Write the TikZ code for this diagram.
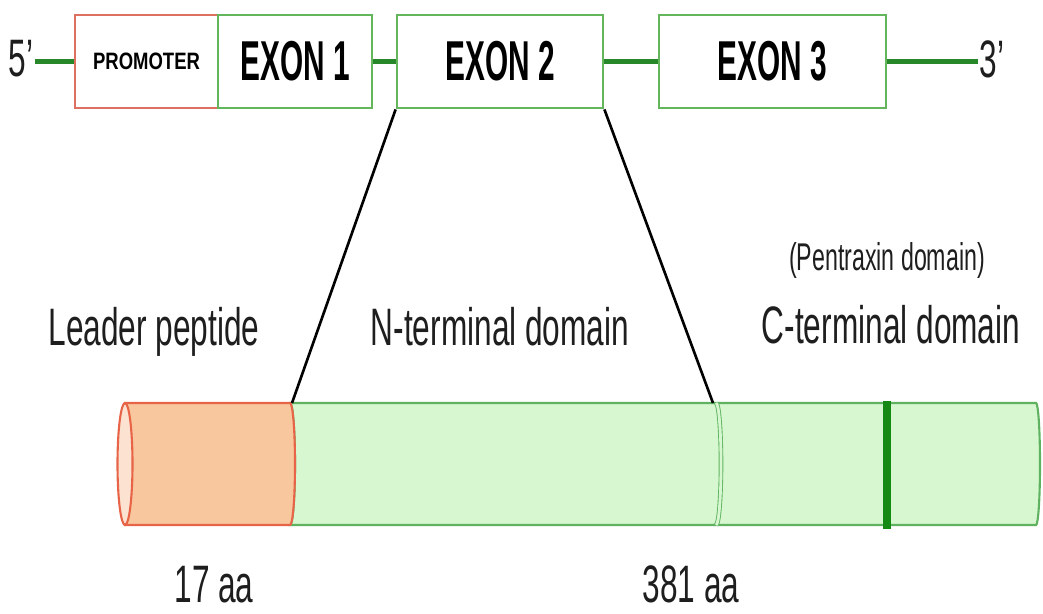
\documentclass[tikz,border=0pt]{standalone}
\usepackage{fontspec}
\setmainfont{Liberation Sans}
\newfontfamily\labelfont[FakeStretch=0.6]{Liberation Sans}
\newfontfamily\exonfont[FakeStretch=0.53]{Liberation Sans}
\newfontfamily\promfont[FakeStretch=0.78]{Liberation Sans}
\definecolor{geneline}{RGB}{40,135,40}
\definecolor{exonline}{RGB}{100,182,92}
\definecolor{promline}{RGB}{222,112,98}
\definecolor{leadfill}{RGB}{249,199,158}
\definecolor{leadcap}{RGB}{252,226,208}
\definecolor{leadline}{RGB}{232,100,72}
\definecolor{bodyfill}{RGB}{214,247,208}
\definecolor{bodyline}{RGB}{95,178,95}
\definecolor{bandgreen}{RGB}{20,138,20}
\definecolor{textgray}{RGB}{30,30,30}
\begin{document}
\begin{tikzpicture}[x=0.02cm,y=-0.02cm,
    exonbox/.style = {draw = exonline, line width = 1.6pt, fill = white, inner sep = 0pt,
        minimum height = 1.86cm, font = \exonfont\bfseries\fontsize{32}{32}\selectfont},
    dnaline/.style = {draw = geneline, line width = 2.8pt},
    bigtext/.style = {anchor = base, text = textgray, font = \labelfont\fontsize{30}{30}\selectfont},
    linkline/.style = {draw = black, line width = 1.5pt}]
    \useasboundingbox (0,0) rectangle (1043,613);
    % gene
    \node[bigtext, anchor = center, inner sep = 1pt] (five) at (21,59) {5’};
    \node[bigtext, anchor = center, inner sep = 1pt] (three) at (992,59) {3’};
    \node[exonbox, draw = promline, minimum width = 2.86cm,
        font = \promfont\bfseries\fontsize{13.5}{13.5}\selectfont] (prom) at (146.5,61.5) {PROMOTER};
    \node[exonbox, minimum width = 3.08cm] (ex1) at (295,61.5) {EXON 1};
    \node[exonbox, minimum width = 4.12cm] (ex2) at (500,61.5) {EXON 2};
    \node[exonbox, minimum width = 4.54cm] (ex3) at (772.5,61.5) {EXON 3};
    \draw[dnaline] (five.east |- prom.west) -- (prom.west);
    \draw[dnaline] (ex1.east) -- (ex2.west);
    \draw[dnaline] (ex2.east) -- (ex3.west);
    \draw[dnaline] (ex3.east) -- (three.west |- ex3.east);
    % protein
    \filldraw[fill = bodyfill, draw = bodyline, line width = 1.2pt]
        (290,403) -- (1036,403) arc[start angle = 90, end angle = -90, x radius = 0.08cm, y radius = 1.22cm]
        -- (290,525) arc[start angle = -90, end angle = 90, x radius = 0.1cm, y radius = 1.22cm] -- cycle;
    \filldraw[fill = leadfill, draw = leadline, line width = 1.2pt]
        (125,403) -- (290,403) arc[start angle = 90, end angle = -90, x radius = 0.1cm, y radius = 1.22cm]
        -- (125,525) -- cycle;
    \filldraw[fill = leadcap, draw = leadline, line width = 1.2pt] (125,464) ellipse[x radius = 0.15cm, y radius = 1.22cm];
    \draw[bodyline, line width = 0.5pt, double = bodyfill, double distance = 1.6pt]
        (716,403) arc[start angle = 90, end angle = -90, x radius = 0.1cm, y radius = 1.22cm];
    \draw[bandgreen, line width = 4.5pt] (887,401) -- (887,529);
    \coordinate (nstart) at (292,403);
    \coordinate (nend) at (713,403);
    \draw[linkline] (ex2.south west) -- (nstart);
    \draw[linkline] (ex2.south east) -- (nend);
    % labels
    \node[bigtext] (leader) at (154,345) {Leader peptide};
    \node[bigtext] (nterm) at (500,345) {N-terminal domain};
    \node[bigtext] (cterm) at (891,343) {C-terminal domain};
    \node[bigtext, font = \labelfont\fontsize{22}{22}\selectfont] (ptx) at (887,270) {(Pentraxin domain)};
    \node[bigtext] (aa17) at (214,602) {17 aa};
    \node[bigtext] (aa381) at (691,602) {381 aa};
\end{tikzpicture}
\end{document}
